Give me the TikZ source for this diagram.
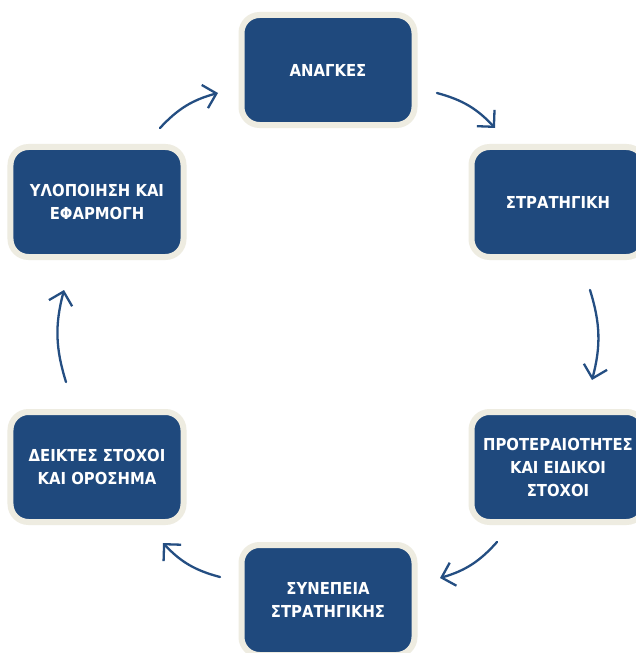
\documentclass[tikz,border=0pt]{standalone}
\usepackage{fontspec}
\setmainfont{DejaVu Sans Condensed}
\usetikzlibrary{arrows.meta,positioning}
\definecolor{boxblue}{HTML}{1F497D}
\definecolor{boxrim}{HTML}{EEECE1}
\definecolor{arrblue}{HTML}{244E82}
\tikzset{
  stagebox/.style={draw=boxrim, line width=6bp, fill=boxblue, rounded corners=18bp,
    minimum width=173bp, minimum height=110bp, inner sep=0pt, text=white,
    font=\fontsize{16.5bp}{23bp}\selectfont\bfseries, align=center},
  cyclearrow/.style={draw=arrblue, line width=2.3bp, line cap=round,
    -{Straight Barb[length=12bp,width=24bp,line width=2.3bp]}, bend left=16}
}
\begin{document}
\begin{tikzpicture}[x=1bp,y=-1bp]
\useasboundingbox (0,0) rectangle (636,653);
\clip (0,0) rectangle (636,653);
\fill[white] (0,0) rectangle (636,653);
\node[stagebox] (anagkes) at (328,70) {ΑΝΑΓΚΕΣ};
\node[stagebox] (strat) at (558,202) {ΣΤΡΑΤΗΓΙΚΗ};
\node[stagebox] (proter) at (558,467) {ΠΡΟΤΕΡΑΙΟΤΗΤΕΣ\\ΚΑΙ ΕΙΔΙΚΟΙ\\ΣΤΟΧΟΙ};
\node[stagebox] (synep) at (328,600) {ΣΥΝΕΠΕΙΑ\\ΣΤΡΑΤΗΓΙΚΗΣ};
\node[stagebox] (deiktes) at (97,467) {ΔΕΙΚΤΕΣ ΣΤΟΧΟΙ\\ΚΑΙ ΟΡΟΣΗΜΑ};
\node[stagebox] (ylop) at (97,202) {ΥΛΟΠΟΙΗΣΗ ΚΑΙ\\ΕΦΑΡΜΟΓΗ};
\coordinate (a1s) at (160,128); \coordinate (a1e) at (218,93);
\coordinate (a2s) at (437,93);  \coordinate (a2e) at (495,128);
\coordinate (a3s) at (590,290); \coordinate (a3e) at (592,380);
\coordinate (a4s) at (497,542); \coordinate (a4e) at (440,578);
\coordinate (a5s) at (220,577); \coordinate (a5e) at (163,543);
\coordinate (a6s) at (66,382);  \coordinate (a6e) at (64,290);
\draw[cyclearrow] (a1s) to (a1e);
\draw[cyclearrow] (a2s) to (a2e);
\draw[cyclearrow] (a3s) to (a3e);
\draw[cyclearrow] (a4s) to (a4e);
\draw[cyclearrow] (a5s) to (a5e);
\draw[cyclearrow] (a6s) to (a6e);
\end{tikzpicture}
\end{document}
